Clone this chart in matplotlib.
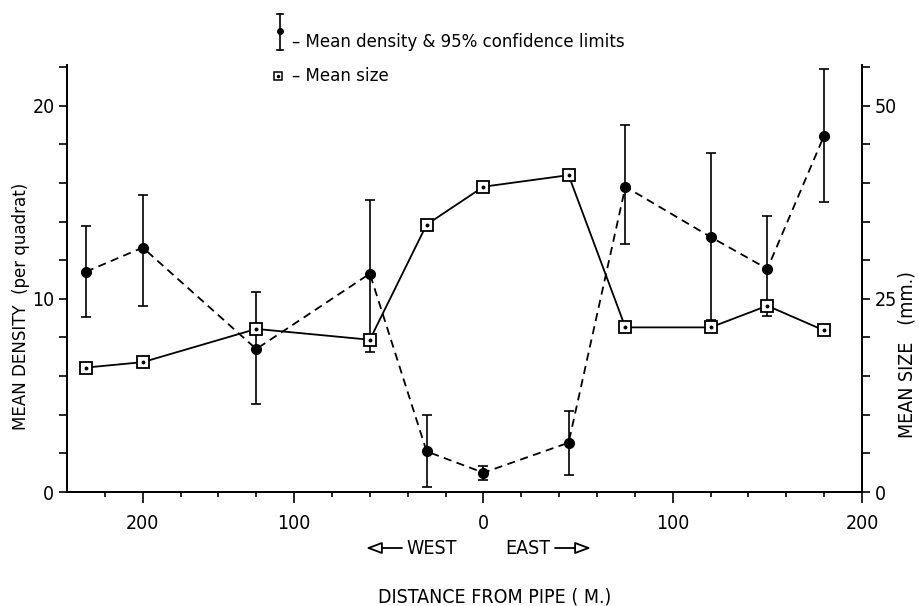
import matplotlib
matplotlib.use("Agg")
import matplotlib.pyplot as plt
from matplotlib.ticker import FixedLocator, MultipleLocator
from matplotlib import font_manager
from matplotlib.patches import FancyArrowPatch
from matplotlib.lines import Line2D

# ---------------- data ----------------
# positions along the drawn distance axis (west negative)
distance = [-210, -180, -120, -60, -30, 0, 45, 75, 120, 150, 180]
density = [11.4, 12.65, 7.4, 11.3, 2.1, 1.0, 2.55, 15.8, 13.2, 11.55, 18.45]
density_hi = [13.75, 15.35, 10.35, 15.1, 4.0, 1.35, 4.2, 19.0, 17.55, 14.3, 21.9]
density_lo = [9.05, 9.65, 4.55, 7.25, 0.25, 0.6, 0.9, 12.85, 8.9, 9.1, 15.0]
mean_size = [16.1, 16.8, 21.1, 19.7, 34.6, 39.5, 41.0, 21.3, 21.3, 24.1, 20.9]

xtick_pos = [-180, -100, 0, 100, 200]
xtick_labels = ["200", "100", "0", "100", "200"]
left_ticks = [0, 10, 20]
right_ticks = [0, 25, 50]

# ---------------- style ----------------
fonts = font_manager.fontManager.ttflist
names = {f.name for f in fonts}
condensed = [f for f in fonts if f.name == "DejaVu Sans" and str(f.stretch) in ("condensed", "semi-condensed", "500", "600")]
if "Liberation Sans Narrow" in names:
    plt.rcParams["font.family"] = ["Liberation Sans Narrow", "DejaVu Sans"]
    FS = 14
elif condensed:
    plt.rcParams["font.family"] = ["DejaVu Sans"]
    plt.rcParams["font.stretch"] = "condensed"
    FS = 14
else:
    plt.rcParams["font.family"] = ["DejaVu Sans"]
    FS = 12.5
LFS = FS * 0.95

W, H = 919, 606
fig = plt.figure(figsize=(W / 100, H / 100), dpi=100)
ax = fig.add_axes([67 / W, 1 - 492 / H, (862 - 67) / W, (492 - 65) / H])
ax2 = ax.twinx()

ax.set_xlim(-220, 200)
ax.set_ylim(0, 22.1)
ax2.set_ylim(0, 22.1 * 2.5)

for a in (ax, ax2):
    a.spines["top"].set_visible(False)
    for s in a.spines.values():
        s.set_linewidth(1.3)
ax.patch.set_visible(False)

# density with 95% limits
yerr = [[d - lo for d, lo in zip(density, density_lo)],
        [hi - d for d, hi in zip(density, density_hi)]]
ax.errorbar(distance, density, yerr=yerr, fmt="none", ecolor="black",
            elinewidth=1.2, capsize=3.5, capthick=1.2, zorder=3)
ax.plot(distance, density, linestyle=(0, (4.5, 3)), color="black", lw=1.3,
        marker="o", ms=7, mfc="black", mec="black", zorder=4)

# mean size
ax2.plot(distance, mean_size, "-", color="black", lw=1.3, marker="s", ms=8,
         mfc="white", mec="black", mew=1.3, zorder=5)
ax2.plot(distance, mean_size, linestyle="none", marker="o", ms=1.8,
         mfc="black", mec="black", zorder=6)

# ticks
ax.xaxis.set_major_locator(FixedLocator(xtick_pos))
ax.set_xticklabels(xtick_labels)
ax.xaxis.set_minor_locator(FixedLocator([v for v in range(-200, 200, 20) if v not in xtick_pos]))
ax.yaxis.set_major_locator(FixedLocator(left_ticks))
ax.yaxis.set_minor_locator(MultipleLocator(2))
ax2.yaxis.set_major_locator(FixedLocator(right_ticks))
ax2.yaxis.set_minor_locator(MultipleLocator(5))

ax.tick_params(axis="x", which="major", direction="out", length=8, width=1.2, labelsize=FS, pad=8)
ax.tick_params(axis="x", which="minor", direction="out", length=3.5, width=1.2)
ax.tick_params(axis="y", which="both", direction="out", length=6, width=1.2, labelsize=FS, pad=3)
ax2.tick_params(axis="y", which="both", direction="out", length=6, width=1.2, labelsize=FS, pad=3)

# axis titles
fig.text(21 / W, 1 - 306 / H, "MEAN DENSITY  (per quadrat)", rotation=90,
         ha="center", va="center", fontsize=FS * 0.95)
fig.text(907 / W, 1 - 355 / H, "MEAN SIZE   (mm.)", rotation=90,
         ha="center", va="center", fontsize=FS)
fig.text(495 / W, 1 - 597 / H, "DISTANCE FROM PIPE ( M.)", ha="center",
         va="center", fontsize=FS)

# west / east
fig.text(432 / W, 1 - 548 / H, "WEST", ha="center", va="center", fontsize=FS)
fig.text(528 / W, 1 - 548 / H, "EAST", ha="center", va="center", fontsize=FS)
arrow_kw = dict(arrowstyle="-|>,head_length=0.8,head_width=0.3", color="black",
                lw=1.3, fc="white", shrinkA=0, shrinkB=0, mutation_scale=12)
fig.add_artist(FancyArrowPatch((402 / W, 1 - 548 / H), (366 / W, 1 - 548 / H),
                               transform=fig.transFigure, **arrow_kw))
fig.add_artist(FancyArrowPatch((555 / W, 1 - 548 / H), (591 / W, 1 - 548 / H),
                               transform=fig.transFigure, **arrow_kw))

# legend (hand-drawn style)
lx = 280
fig.add_artist(Line2D([lx / W, lx / W], [1 - 14 / H, 1 - 50 / H],
                      color="black", lw=1.2, transform=fig.transFigure))
for yy in (14, 50):
    fig.add_artist(Line2D([(lx - 3) / W, (lx + 3) / W], [1 - yy / H, 1 - yy / H],
                          color="black", lw=1.2, transform=fig.transFigure))
fig.add_artist(Line2D([lx / W], [1 - 31 / H], marker="o", ms=4,
                      color="black", transform=fig.transFigure))
fig.text(292 / W, 1 - 42 / H, "– Mean density & 95% confidence limits",
         ha="left", va="center", fontsize=LFS)
fig.add_artist(Line2D([278 / W], [1 - 76 / H], marker="s", ms=6,
                      mfc="white", mec="black", mew=1.1, transform=fig.transFigure))
fig.add_artist(Line2D([278 / W], [1 - 76 / H], marker="o", ms=1.5,
                      color="black", transform=fig.transFigure))
fig.text(292 / W, 1 - 76 / H, "– Mean size", ha="left", va="center", fontsize=LFS)

fig.savefig("out.png", dpi=100, facecolor="white")
